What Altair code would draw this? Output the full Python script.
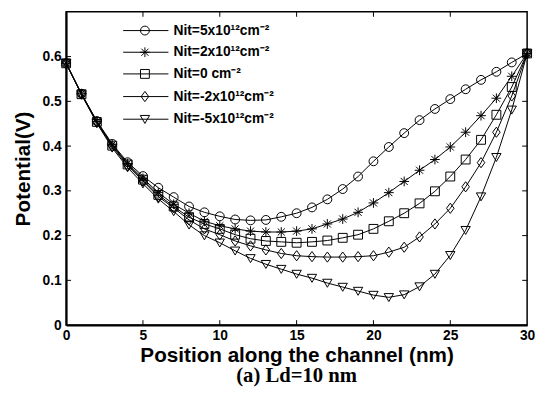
import altair as alt
import pandas as pd

positions = list(range(31))
series_names = ["Nit=5x10¹²cm⁻²", "Nit=2x10¹²cm⁻²", "Nit=0 cm⁻²",
                "Nit=-2x10¹²cm⁻²", "Nit=-5x10¹²cm⁻²"]
nit_p5 = [0.585, 0.517, 0.456, 0.405, 0.364, 0.333, 0.307, 0.286, 0.265, 0.252, 0.243,
          0.236, 0.234, 0.235, 0.242, 0.250, 0.263, 0.281, 0.304, 0.332, 0.366,
          0.398, 0.429, 0.458, 0.483, 0.505, 0.527, 0.548, 0.566, 0.587, 0.607]
nit_p2 = [0.585, 0.517, 0.455, 0.403, 0.361, 0.328, 0.296, 0.270, 0.250, 0.232, 0.222,
          0.215, 0.210, 0.208, 0.208, 0.210, 0.215, 0.226, 0.237, 0.252, 0.273,
          0.296, 0.321, 0.346, 0.370, 0.398, 0.431, 0.468, 0.507, 0.556, 0.607]
nit_0 = [0.585, 0.516, 0.454, 0.401, 0.359, 0.325, 0.291, 0.265, 0.241, 0.226, 0.215,
         0.202, 0.193, 0.188, 0.186, 0.184, 0.186, 0.189, 0.195, 0.202, 0.215,
         0.232, 0.250, 0.272, 0.299, 0.332, 0.370, 0.414, 0.470, 0.532, 0.607]
nit_m2 = [0.585, 0.516, 0.453, 0.399, 0.356, 0.322, 0.287, 0.262, 0.235, 0.215, 0.202,
          0.188, 0.177, 0.168, 0.160, 0.155, 0.153, 0.152, 0.152, 0.153, 0.155,
          0.163, 0.174, 0.197, 0.226, 0.261, 0.309, 0.363, 0.431, 0.512, 0.607]
nit_m5 = [0.585, 0.515, 0.451, 0.396, 0.352, 0.316, 0.282, 0.254, 0.224, 0.200, 0.184,
          0.166, 0.149, 0.136, 0.125, 0.114, 0.105, 0.094, 0.085, 0.076, 0.067,
          0.062, 0.068, 0.086, 0.114, 0.156, 0.212, 0.287, 0.375, 0.481, 0.607]
x_ticks = [0, 5, 10, 15, 20, 25, 30]
y_ticks = [0, 0.1, 0.2, 0.3, 0.4, 0.5, 0.6]
x_inner_ticks = [5, 10, 15, 20, 25]
y_inner_ticks = [0.1, 0.2, 0.3, 0.4, 0.5, 0.6]

rows = []
for name, vals in zip(series_names, [nit_p5, nit_p2, nit_0, nit_m2, nit_m5]):
    for x, v in zip(positions, vals):
        rows.append({"pos": x, "pot": v, "series": name})
df = pd.DataFrame(rows)

W, H = 468, 318
XT = "Position along the channel (nm)"
YT = "Potential(V)"
xs = alt.Scale(domain=[0, 30], nice=False, zero=False)
ys = alt.Scale(domain=[0, 0.7], nice=False)

star = "M0,-1.1L0,1.1M-1.1,0L1.1,0M-0.8,-0.8L0.8,0.8M-0.8,0.8L0.8,-0.8"
diamond = "M0,-1.15L0.85,0L0,1.15L-0.85,0Z"
tri = "M-1.05,-0.85L1.05,-0.85L0,0.95Z"
circ = "M-1,0A1,1 0 1,0 1,0A1,1 0 1,0 -1,0"
sq = "M-1,-1L1,-1L1,1L-1,1Z"
hline = "M-4.9,0L5.3,0"
plot_shapes = ["circle", star, "square", diamond, tri]
legend_shapes = [hline + s for s in [circ, star, sq, diamond, tri]]

x_axis = alt.Axis(values=x_ticks, title=XT, ticks=False, labelPadding=4, titlePadding=2,
                  labelFlush=False, titleFontSize=21)
y_axis = alt.Axis(values=y_ticks, title=YT, ticks=False, format="~g", labelPadding=5,
                  titlePadding=9, titleFontSize=21)

base = alt.Chart(df)
lines = base.mark_line(color="black", strokeWidth=1).encode(
    x=alt.X("pos:Q", scale=xs, axis=x_axis),
    y=alt.Y("pot:Q", scale=ys, axis=y_axis),
    detail="series:N",
)
points = base.mark_point(filled=False, color="black", size=81, strokeWidth=1, opacity=1).encode(
    x=alt.X("pos:Q", scale=xs, title=XT),
    y=alt.Y("pot:Q", scale=ys, title=YT),
    shape=alt.Shape("series:N", scale=alt.Scale(domain=series_names, range=plot_shapes),
                    legend=None),
)
legend_layer = base.transform_filter("false").mark_point(
    filled=False, color="black", size=81, strokeWidth=1, opacity=1).encode(
    x=alt.X("pos:Q", scale=xs, title=XT),
    y=alt.Y("pot:Q", scale=ys, title=YT),
    shape=alt.Shape("series:N", scale=alt.Scale(domain=series_names, range=legend_shapes),
                    legend=alt.Legend(title=None, orient="none", legendX=73, legendY=12,
                                      labelFont="Liberation Sans", labelFontSize=14,
                                      labelFontWeight="bold", labelColor="black",
                                      symbolSize=81, symbolStrokeColor="black",
                                      symbolFillColor="transparent", symbolStrokeWidth=1,
                                      labelOffset=22, rowPadding=8, padding=0,
                                      labelLimit=400)),
)

xt_df = pd.DataFrame({"t": x_inner_ticks})
yt_df = pd.DataFrame({"t": y_inner_ticks})
bottom_ticks = alt.Chart(xt_df).mark_rule(color="black", strokeWidth=1).encode(
    x=alt.X("t:Q", scale=xs, title=XT), y=alt.value(H), y2=alt.value(H - 5))
top_ticks = alt.Chart(xt_df).mark_rule(color="black", strokeWidth=1).encode(
    x=alt.X("t:Q", scale=xs, title=XT), y=alt.value(0), y2=alt.value(5))
left_ticks = alt.Chart(yt_df).mark_rule(color="black", strokeWidth=1).encode(
    y=alt.Y("t:Q", scale=ys, title=YT), x=alt.value(0), x2=alt.value(5))
right_ticks = alt.Chart(yt_df).mark_rule(color="black", strokeWidth=1).encode(
    y=alt.Y("t:Q", scale=ys, title=YT), x=alt.value(W), x2=alt.value(W - 5))

chart = alt.layer(lines, points, legend_layer, bottom_ticks, top_ticks, left_ticks,
                  right_ticks).resolve_scale(shape="independent").properties(
    width=W, height=H,
    padding={"left": 59, "top": 1, "right": 8, "bottom": 64},
    autosize=alt.AutoSizeParams(type="none"),
    title=alt.Title("(a) Ld=10 nm", orient="bottom", font="Liberation Serif", fontSize=21,
                    fontWeight="bold", color="black", offset=0),
).configure_view(stroke="black", strokeWidth=1.5).configure_axis(
    domainColor="black", domainWidth=2, grid=False,
    labelFont="Liberation Sans", labelFontWeight="bold", labelFontSize=14, labelColor="black",
    titleFont="Liberation Sans", titleFontSize=21, titleFontWeight="bold", titleColor="black",
)

chart.save("out.html", embed_options={"renderer": "svg", "actions": False})
